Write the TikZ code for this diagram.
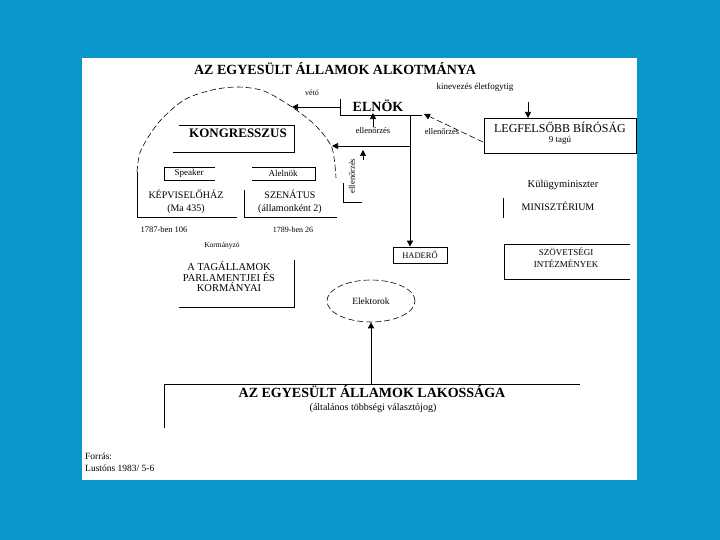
\documentclass[tikz,border=0pt]{standalone}
\usepackage{fontspec}
\setmainfont{Liberation Serif}
\usepackage{tikz}
\usetikzlibrary{positioning,arrows.meta,shapes.geometric}
\definecolor{slideblue}{HTML}{0A97C9}
\tikzset{
  smalltext/.style={font=\fontsize{8.5}{10}\selectfont, inner sep=1pt},
  bodytext/.style={font=\fontsize{10}{13}\selectfont, align=center, inner sep=1pt},
  headtext/.style={font=\bfseries\fontsize{14}{16}\selectfont, inner sep=1pt},
  framebox/.style={draw, line width=0.7pt, font=\fontsize{8.5}{10}\selectfont,
    minimum width=54pt, minimum height=16pt, inner sep=1pt},
  frameline/.style={line width=0.7pt},
  ctrlarrow/.style={-{Triangle[length=6pt,width=6pt]}, line width=0.7pt},
  dashline/.style={dash pattern=on 6pt off 3pt, line width=0.6pt}
}
\begin{document}
\begin{tikzpicture}[x=1pt, y=-1pt]
  \useasboundingbox (0,0) rectangle (720,540);
  \fill[slideblue] (0,0) rectangle (720,540);
  \fill[white] (82,58) rectangle (637,480);

  % heading
  \node[headtext] (title) at (335,69) {AZ EGYESÜLT ÁLLAMOK ALKOTMÁNYA};

  % president
  \node[headtext] (elnok) at (378,106) {ELNÖK};
  \node[smalltext, font=\fontsize{8}{10}\selectfont] (veto) at (312,93) {vétó};
  \node[smalltext, font=\fontsize{9}{10}\selectfont] (kinev) at (475,87) {kinevezés életfogytig};
  \node[smalltext] (ellenA) at (373,131) {ellenőrzés};
  \node[smalltext] (ellenB) at (442,132) {ellenőrzés};
  \node[smalltext, rotate=90] (ellenC) at (352,176) {ellenőrzés};

  % supreme court
  \node[bodytext, font=\fontsize{12}{14}\selectfont] (court) at (560,127) {LEGFELSŐBB BÍRÓSÁG};
  \node[smalltext, font=\fontsize{9}{10}\selectfont] (courtsize) at (560,140) {9 tagú};
  \draw[frameline] (484,118) rectangle (636,153);

  % congress
  \node[headtext, font=\bfseries\fontsize{13}{15}\selectfont] (kongr) at (238,133) {KONGRESSZUS};
  \draw[frameline] (179,125) -- (294,125) -- (294,152) -- (173,152);
  \node[bodytext, font=\fontsize{9}{10}\selectfont] (speaker) at (189,173.5) {Speaker};
  \draw[frameline] (215,167) -- (164,167) -- (164,180) -- (215,180);
  \node[bodytext, font=\fontsize{9}{10}\selectfont] (alelnok) at (283,173.5) {Alelnök};
  \draw[frameline] (252,167) -- (315,167) -- (315,180) -- (252,180);
  \node[bodytext] (hazA) at (186,201.5) {KÉPVISELŐHÁZ\\(Ma 435)};
  \node[bodytext] (szenat) at (290,201.5) {SZENÁTUS\\(államonként 2)};
  \draw[frameline] (137,172) -- (137,217) -- (237,217);
  \draw[frameline] (244,190) -- (244,217) -- (337,217);
  \draw[dashline] plot[smooth] coordinates {(137,172) (141,150) (159,122) (184,100)
    (212,90) (238,87) (264,91) (292,107) (316,126) (332,148) (336,178)};
  \node[smalltext] (hazyear) at (164,230) {1787-ben 106};
  \node[smalltext, font=\fontsize{8}{10}\selectfont] (szenyear) at (293,230) {1789-ben 26};
  \draw[frameline] (343,183) -- (343,202) -- (362,202);

  % connectors of the president
  \coordinate (vetotip) at (292,107);
  \coordinate (ctrltip) at (332,146);
  \coordinate (elnokL) at (340,107);
  \coordinate (elnokR) at (410,115);
  \draw[frameline] (340,99) -- (340,115) -- (422,115);
  \draw[ctrlarrow] (elnokL) -- (vetotip);
  \draw[ctrlarrow] (elnokR |- ctrltip) -- (ctrltip);
  \draw[ctrlarrow] (ellenA.north) -- (ellenA.north |- elnok.south);
  \draw[ctrlarrow] (363,160) -- (363,150);
  \draw[dashline, -{Triangle[length=6pt,width=6pt]}] (483,142) -- (424,114);
  \coordinate (apptop) at (528,102);
  \draw[ctrlarrow] (apptop) -- (apptop |- 0,118);

  % armed forces and ministries
  \node[framebox] (hadero) at (420,255) {HADERŐ};
  \draw[ctrlarrow] (elnokR) -- (elnokR |- hadero.north);
  \node[bodytext, font=\fontsize{10.5}{12}\selectfont] (kulugy) at (563,185) {Külügyminiszter};
  \node[bodytext] (minist) at (558,206) {MINISZTÉRIUM};
  \draw[frameline] (503,198) -- (503,218);
  \node[bodytext, font=\fontsize{9}{12}\selectfont] (szov) at (566,258) {SZÖVETSÉGI\\INTÉZMÉNYEK};
  \draw[frameline] (630,244) -- (504,244) -- (504,279) -- (630,279);

  % member states
  \node[smalltext, font=\fontsize{7.5}{9}\selectfont] (korm) at (222,246) {Kormányzó};
  \node[bodytext, font=\fontsize{10.5}{10.5}\selectfont] (tagall) at (229,277)
    {A TAGÁLLAMOK\\PARLAMENTJEI ÉS\\KORMÁNYAI};
  \draw[frameline] (179,307) -- (294,307) -- (294,260);

  % electors and people
  \node[ellipse, draw, dashline, minimum width=88pt, minimum height=42pt,
    font=\fontsize{9.5}{11}\selectfont] (elekt) at (371,301) {Elektorok};
  \node[headtext] (nep) at (372,392) {AZ EGYESÜLT ÁLLAMOK LAKOSSÁGA};
  \node[smalltext, font=\fontsize{10}{12}\selectfont] (valaszt) at (373,408) {(általános többségi választójog)};
  \coordinate (nepline) at (371,384);
  \draw[frameline] (164,428) -- (164,384) -- (580,384);
  \draw[ctrlarrow] (nepline) -- (elekt.south);

  % source
  \node[smalltext, font=\fontsize{9.5}{11}\selectfont, anchor=west] (forras) at (84,456) {Forrás:};
  \node[smalltext, font=\fontsize{9.5}{11}\selectfont, anchor=west] (forrasB) at (84,468) {Lustóns 1983/ 5-6};
\end{tikzpicture}
\end{document}
